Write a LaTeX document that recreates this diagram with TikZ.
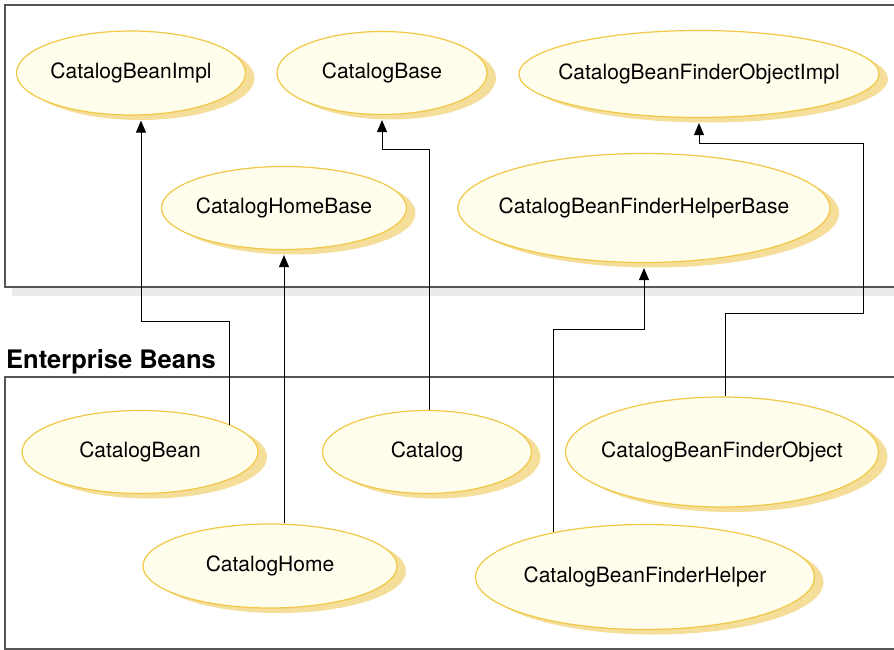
\documentclass[tikz,border=0pt]{standalone}
\usepackage{fontspec}
\setmainfont{TeX Gyre Heros}
\usepackage{tikz}
\usetikzlibrary{arrows.meta,shapes.geometric,shadows,calc}
\definecolor{beanfill}{HTML}{FFFDEC}
\definecolor{beanline}{HTML}{F0C846}
\definecolor{beanshade}{HTML}{F5DD9A}
\definecolor{frameshade}{HTML}{EBEBEB}
\definecolor{frameline}{HTML}{555555}
\tikzset{
  bean/.style={ellipse, draw=beanline, line width=1.2pt, fill=beanfill, inner sep=0pt,
    drop shadow={shadow xshift=9pt, shadow yshift=-5pt, fill=beanshade, opacity=1}},
  beantext/.style={font=\fontsize{21}{25}\selectfont, text=black},
  frame/.style={draw=frameline, line width=1.3pt, fill=white},
  link/.style={-{Triangle[length=12pt,width=10pt]}, line width=1pt, shorten >=5pt},
  grouptitle/.style={font=\fontsize{25.5}{30}\selectfont\bfseries, inner sep=0pt, anchor=base west}
}

\begin{document}
\begin{tikzpicture}[x=1pt,y=-1pt]
  \clip (0,0) rectangle (894,650);
  % package frames
  \fill[frameshade] (12,14) rectangle (900,296);
  \draw[frame] (5,5) rectangle (900,287);
  \node[grouptitle] (ejbtitle) at (6,368) {Enterprise Beans};
  \draw[frame] (5,377) rectangle (900,649);

  % implementation classes
  \node[bean, minimum width=229pt, minimum height=84pt, label={[beantext]center:CatalogBeanImpl}] (implBean) at (131,73) {};
  \node[bean, minimum width=210pt, minimum height=83pt, label={[beantext]center:CatalogBase}] (base) at (382,73) {};
  \node[bean, minimum width=360pt, minimum height=87pt, label={[beantext]center:CatalogBeanFinderObjectImpl}] (finderImpl) at (699,74) {};
  \node[bean, minimum width=245pt, minimum height=83pt, label={[beantext]center:CatalogHomeBase}] (homeBase) at (284,208) {};
  \node[bean, minimum width=372pt, minimum height=109pt, label={[beantext]center:CatalogBeanFinderHelperBase}] (helperBase) at (644,208) {};

  % enterprise beans
  \node[bean, minimum width=236pt, minimum height=83pt, label={[beantext]center:CatalogBean}] (bean) at (140,452) {};
  \node[bean, minimum width=209pt, minimum height=83pt, label={[beantext]center:Catalog}] (catalog) at (427,452) {};
  \node[bean, minimum width=313pt, minimum height=110pt, label={[beantext]center:CatalogBeanFinderObject}] (finderObj) at (722,452) {};
  \node[bean, minimum width=254pt, minimum height=84pt, label={[beantext]center:CatalogHome}] (home) at (270,566) {};
  \node[bean, minimum width=339pt, minimum height=105pt, label={[beantext]center:CatalogBeanFinderHelper}] (helper) at (645,577) {};

  % links
  \draw[link] (bean.17) -- (bean.17 |- 0,321) -| ([xshift=10pt]implBean.south);
  \draw[link] (home.north -| homeBase.south) -- (homeBase.south);
  \draw[link] ([xshift=2pt]catalog.north) -- ++(0,-260) -| (base.south);
  \draw[link] (helper.154) -- (helper.154 |- 0,329) -| (helperBase.south);
  \draw[link] ([xshift=3pt]finderObj.north) -- ++(0,-83) -- ++(138,0) -- ++(0,-170) -| (finderImpl.south);
\end{tikzpicture}
\end{document}
